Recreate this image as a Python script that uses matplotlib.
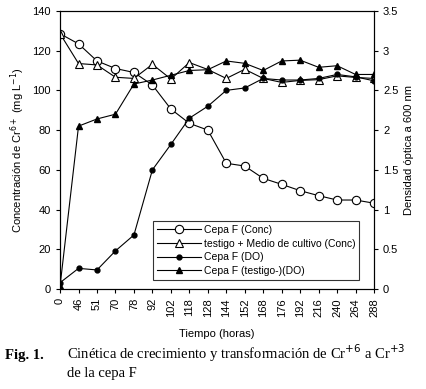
import matplotlib
matplotlib.use("Agg")
import matplotlib.pyplot as plt
import numpy as np

# horas de muestreo (eje categórico)
horas = [0, 46, 51, 70, 78, 92, 102, 118, 128, 144, 152, 168, 176, 192, 216, 240, 264, 288]

# concentración de Cr6+ (mg/L)
conc_cepa_f = [128.5, 123.4, 114.8, 111, 109, 102.7, 90.6, 83.4, 80,
               63.3, 61.9, 55.7, 52.7, 49.5, 47, 44.8, 44.8, 43.2]
conc_testigo = [128.5, 113.5, 112.8, 106.6, 106, 113.1, 105.7, 114, 110.5,
                106, 110.6, 106, 104, 105, 105.4, 107.3, 106.5, 106]

# densidad óptica a 600 nm
do_cepa_f = [0.08, 0.26, 0.24, 0.48, 0.68, 1.50, 1.82, 2.15, 2.30,
             2.50, 2.53, 2.65, 2.63, 2.63, 2.65, 2.70, 2.67, 2.62]
do_testigo = [0.04, 2.05, 2.14, 2.20, 2.58, 2.63, 2.69, 2.75, 2.76,
              2.87, 2.84, 2.75, 2.87, 2.88, 2.79, 2.81, 2.70, 2.70]

plt.rcParams['font.family'] = ['Liberation Sans', 'DejaVu Sans']

fig = plt.figure(figsize=(4.26, 3.89), dpi=100)
ax = fig.add_axes([0.141, 0.257, 0.737, 0.715])
ax2 = ax.twinx()

x = np.arange(len(horas))
lw = 0.8

l1, = ax.plot(x, conc_cepa_f, color='black', lw=lw, marker='o', ms=6,
              mfc='white', mec='black', mew=0.8, label='Cepa F (Conc)')
l2, = ax.plot(x, conc_testigo, color='black', lw=lw, marker='^', ms=6,
              mfc='white', mec='black', mew=0.8,
              label='testigo + Medio de cultivo (Conc)')
l3, = ax2.plot(x, do_cepa_f, color='black', lw=lw, marker='o', ms=3.5,
               label='Cepa F (DO)')
l4, = ax2.plot(x, do_testigo, color='black', lw=lw, marker='^', ms=4,
               label='Cepa F (testigo-)(DO)')

ax.set_xlim(0, len(horas) - 1)
ax.set_ylim(0, 140)
ax.set_yticks(range(0, 141, 20))
ax2.set_ylim(0, 3.5)
ax2.set_yticks([0, 0.5, 1, 1.5, 2, 2.5, 3, 3.5])
ax2.set_yticklabels(['0', '0.5', '1', '1.5', '2', '2.5', '3', '3.5'])

ax.set_xticks(x)
ax.set_xticklabels([str(h) for h in horas], rotation=90)

for a in (ax, ax2):
    a.tick_params(labelsize=8, length=3, width=0.8, direction='out')
    for s in a.spines.values():
        s.set_linewidth(0.8)

ax.set_ylabel('Concentración de Cr$^{6+}$ (mg L$^{-1}$)', fontsize=8, labelpad=4)
ax2.set_ylabel('Densidad óptica a 600 nm', fontsize=8, labelpad=4)
ax.set_xlabel('Tiempo (horas)', fontsize=8, labelpad=9)

leg = ax2.legend(handles=[l1, l2, l3, l4], loc='lower left',
                 bbox_to_anchor=(0.28, 0.015), fontsize=7.5, frameon=True,
                 fancybox=False, edgecolor='black', handlelength=4.2,
                 borderpad=0.35, labelspacing=0.35, handletextpad=0.3)
leg.get_frame().set_linewidth(0.8)

fig.text(0.012, 0.078, 'Fig. 1.', fontsize=10.5, fontweight='bold',
         family='Liberation Serif')
fig.text(0.157, 0.078, 'Cinética de crecimiento y transformación de Cr$^{+6}$ a Cr$^{+3}$',
         fontsize=10.5, family='Liberation Serif')
fig.text(0.157, 0.032, 'de la cepa F', fontsize=10.5, family='Liberation Serif')

fig.savefig('out.png', dpi=100)
